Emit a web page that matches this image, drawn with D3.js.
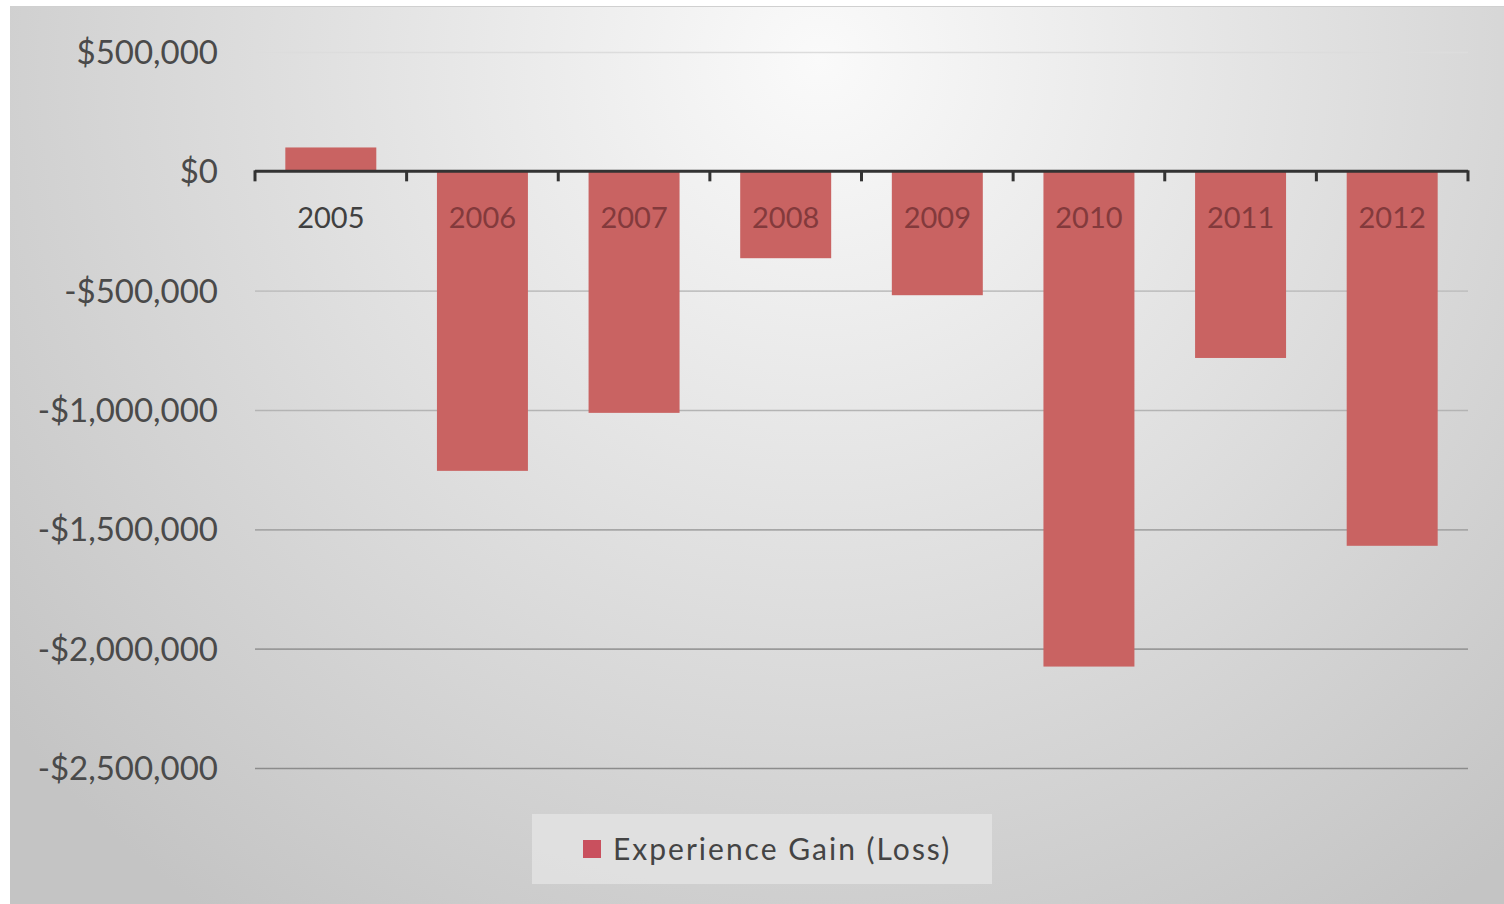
<!DOCTYPE html>
<meta charset="utf-8">
<style>
body { margin: 0; background: #fff; font-family: 'Lato', sans-serif; }
.ylab { fill: #4a4a4a; font-size: 33px; }
.xlab { font-size: 29px; }
</style>
<body>
<script src="https://d3js.org/d3.v7.min.js"></script>
<script>
"use strict";

// data
var years = ["2005", "2006", "2007", "2008", "2009", "2010", "2011", "2012"];
var gains = [100000, -1255000, -1012000, -364000, -519000, -2075000, -782000, -1569000];
var yTicks = [500000, 0, -500000, -1000000, -1500000, -2000000, -2500000];
var seriesName = "Experience Gain (Loss)";

var W = 1504, H = 904;
var svg = d3.select("body").append("svg").attr("width", W).attr("height", H);

var defs = svg.append("defs");
var bg = defs.append("radialGradient").attr("id", "bg")
  .attr("gradientUnits", "userSpaceOnUse")
  .attr("cx", 820).attr("cy", 60).attr("r", 1050);
bg.append("stop").attr("offset", "0%").attr("stop-color", "#fafafa");
bg.append("stop").attr("offset", "100%").attr("stop-color", "#c4c4c4");

var gridGrad = defs.append("linearGradient").attr("id", "grid")
  .attr("gradientUnits", "userSpaceOnUse")
  .attr("x1", 0).attr("y1", 40).attr("x2", 0).attr("y2", 780);
gridGrad.append("stop").attr("offset", "0%").attr("stop-color", "#dedede");
gridGrad.append("stop").attr("offset", "100%").attr("stop-color", "#8a8a8a");

svg.append("rect").attr("x", 10).attr("y", 6).attr("width", W - 10).attr("height", H - 6)
  .attr("fill", "url(#bg)");
svg.append("line").attr("x1", 10).attr("x2", W).attr("y1", 6.5).attr("y2", 6.5)
  .attr("stroke", "#d0d0d0").attr("stroke-width", 1);

var x = d3.scaleBand().domain(years).range([255, 1468]).paddingInner(0.4).paddingOuter(0.2);
var xTicks = d3.scaleBand().domain(years).range([255, 1468]);
var y = d3.scaleLinear().domain([-2500000, 500000]).range([768, 52]);

// gridlines
svg.append("g").selectAll("line").data(yTicks.filter(d => d !== 0)).join("line")
  .attr("x1", 255).attr("x2", 1468)
  .attr("y1", d => y(d) + 0.5).attr("y2", d => y(d) + 0.5)
  .attr("stroke", "url(#grid)").attr("stroke-width", 1.6);

// y labels
var fmt = d => (d < 0 ? "-$" : "$") + d3.format(",")(Math.abs(d));
svg.append("g").selectAll("text").data(yTicks).join("text")
  .attr("class", "ylab")
  .attr("x", 218).attr("y", d => y(d))
  .attr("dy", "0.36em")
  .attr("text-anchor", "end")
  .text(fmt);

// bars
svg.append("g").selectAll("rect").data(gains).join("rect")
  .attr("x", (d, i) => x(years[i]))
  .attr("width", x.bandwidth())
  .attr("y", d => y(Math.max(0, d)))
  .attr("height", d => Math.abs(y(d) - y(0)))
  .attr("fill", "#c96362");

// axis at zero
var axis = svg.append("g").attr("transform", "translate(0," + y(0) + ")");
axis.append("line").attr("x1", 255).attr("x2", 1468).attr("y1", 0).attr("y2", 0)
  .attr("stroke", "#333").attr("stroke-width", 3);
var tickPos = years.map(d => xTicks(d)).concat([1468]);
axis.selectAll("line.tick").data(tickPos).join("line")
  .attr("class", "tick")
  .attr("x1", d => d).attr("x2", d => d).attr("y1", -1).attr("y2", 10)
  .attr("stroke", "#333").attr("stroke-width", 3);

// category labels (they sit on top of the negative bars, which tint them)
svg.append("g").selectAll("text").data(years).join("text")
  .attr("class", "xlab")
  .attr("x", d => xTicks(d) + xTicks.bandwidth() / 2)
  .attr("y", 218).attr("dy", "0.36em")
  .attr("text-anchor", "middle")
  .attr("fill", (d, i) => gains[i] < -250000 ? "#833a3c" : "#404040")
  .text(d => d);

// legend
var lg = svg.append("g");
lg.append("rect").attr("x", 532).attr("y", 814).attr("width", 460).attr("height", 70)
  .attr("fill", "#e4e4e4").attr("fill-opacity", 0.8);
lg.append("rect").attr("x", 583).attr("y", 840).attr("width", 18).attr("height", 18)
  .attr("fill", "#c9505e");
lg.append("text").attr("x", 613).attr("y", 849).attr("dy", "0.36em")
  .attr("fill", "#444").attr("font-size", "30px").attr("letter-spacing", "2px")
  .text(seriesName);
</script>
</body>
